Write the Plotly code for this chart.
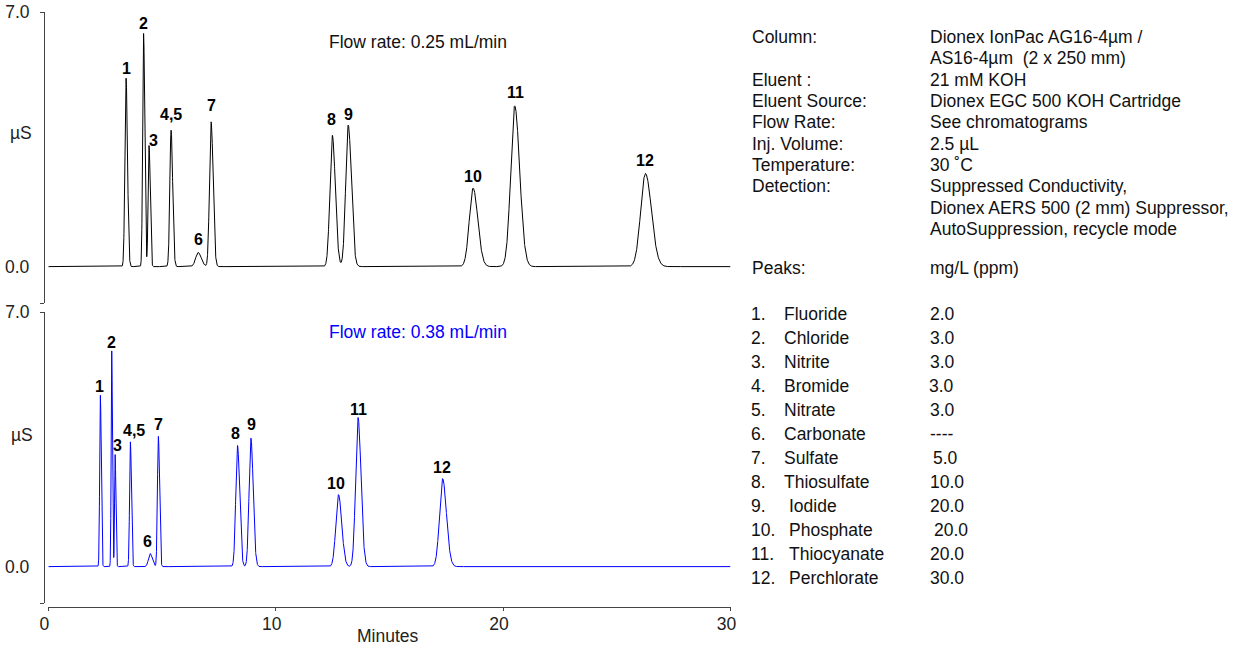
import numpy as np
import plotly.graph_objects as go

W, H = 1257, 651

# ---------------- data ----------------
peak_labels = ["1", "2", "3", "4,5", "6", "7", "8", "9", "10", "11", "12"]

# run at 0.25 mL/min (top)
rt_025 = [3.42, 4.19, 4.43, 5.40, 6.59, 7.16, 12.49, 13.19, 18.68, 20.51, 26.26]
ht_025 = [5.18, 6.41, 3.33, 3.75, 0.39, 3.98, 3.61, 3.89, 2.16, 4.42, 2.56]
sd_025 = [0.050, 0.040, 0.040, 0.055, 0.110, 0.070, 0.105, 0.110, 0.165, 0.175, 0.210]

# run at 0.38 mL/min (bottom)
rt_038 = [2.29, 2.79, 2.94, 3.61, 4.48, 4.84, 8.32, 8.91, 12.76, 13.62, 17.34]
ht_038 = [4.71, 5.93, 3.08, 3.43, 0.36, 3.58, 3.33, 3.53, 1.98, 4.10, 2.42]
sd_038 = [0.030, 0.025, 0.025, 0.035, 0.075, 0.040, 0.075, 0.080, 0.115, 0.105, 0.135]

x_ticks = [0, 10, 20, 30]
y_ticks = [-1.0, 7.0]

cond_names = ["Column:", "", "Eluent :", "Eluent Source:", "Flow Rate:", "Inj. Volume:",
              "Temperature:", "Detection:", "", ""]
cond_values = ["Dionex IonPac AG16-4µm /", "AS16-4µm\u00a0\u00a0(2 x 250 mm)", "21 mM KOH",
               "Dionex EGC 500 KOH Cartridge", "See chromatograms", "2.5 µL", "30 ˚C",
               "Suppressed Conductivity,", "Dionex AERS 500 (2 mm) Suppressor,",
               "AutoSuppression, recycle mode"]

analyte_no = ["1.", "2.", "3.", "4.", "5.", "6.", "7.", "8.", "9.", "10.", "11.", "12."]
analytes = ["Fluoride", "Chloride", "Nitrite", "Bromide", "Nitrate", "Carbonate", "Sulfate",
            "Thiosulfate", "Iodide", "Phosphate", "Thiocyanate", "Perchlorate"]
conc = ["2.0", "3.0", "3.0", "3.0", "3.0", "----", "5.0", "10.0", "20.0", "20.0", "20.0", "30.0"]

# ---------------- styling ----------------
FONT = "Liberation Sans, Arial, sans-serif"
FS = 17.5
AXC = "#444444"
TAIL = 1.25
top_gap = [3, 3, -1, 9, 6, 10, 9, 4, 5, 7, 7]
top_dx = [0, 0, 4, 0, 0, 0, -1, 0, 0, 1, 0]
bot_gap = [2, 2, 3, 5, 6, 5, 6, 7, 5, 1, 5]
bot_dx = [-1, 0, 2, 4, -3, 0, -2, 1, -2, 0, -1]


def chromatogram(t, rts, hts, sds):
    y = np.zeros_like(t)
    for r, h, s in zip(rts, hts, sds):
        sig = np.where(t < r, s, s * TAIL)
        y += h * np.exp(-0.5 * ((t - r) / sig) ** 2)
    return y


t = np.linspace(0, 30, 9001)
y_top = chromatogram(t, rt_025, ht_025, sd_025)
y_bot = chromatogram(t, rt_038, ht_038, sd_038)

fig = go.Figure()
fig.add_trace(go.Scatter(x=t, y=y_top, mode="lines", line=dict(color="black", width=1),
                         xaxis="x", yaxis="y", hoverinfo="skip", showlegend=False))
fig.add_trace(go.Scatter(x=t, y=y_bot, mode="lines", line=dict(color="#0000FF", width=1),
                         xaxis="x2", yaxis="y2", hoverinfo="skip", showlegend=False))

xdom = [48.3 / W, 730.5 / W]
ypos = 44 / W
top_dom = [(H - 303) / H, (H - 12) / H]
bot_dom = [(H - 603) / H, (H - 312) / H]

yax = dict(range=[-1, 7], anchor="free", position=ypos, showline=True, linecolor=AXC,
           linewidth=1, tickmode="array", tickvals=y_ticks, ticktext=["", "7.0"],
           ticks="outside", ticklen=4, tickcolor=AXC, showgrid=False, zeroline=False,
           tickfont=dict(family=FONT, size=FS, color="#222"), ticklabelstandoff=7,
           automargin=False, fixedrange=True)

fig.update_layout(
    width=W, height=H, margin=dict(l=0, r=0, t=0, b=0),
    paper_bgcolor="white", plot_bgcolor="white",
    font=dict(family=FONT, size=FS, color="#222"),
    xaxis=dict(domain=xdom, range=[0, 30], visible=False, anchor="y"),
    yaxis=dict(domain=top_dom, **yax),
    xaxis2=dict(domain=xdom, range=[0, 30], anchor="free", position=(H - 607) / H,
                showline=True, linecolor=AXC, linewidth=1, tickmode="array",
                tickvals=x_ticks, ticks="outside", ticklen=3, tickcolor=AXC,
                showgrid=False, zeroline=False, ticklabelstandoff=-2, ticklabelshift=-4,
                tickfont=dict(family=FONT, size=FS, color="#222"), automargin=False),
    yaxis2=dict(domain=bot_dom, **yax),
)

ann = []
# 0.0 labels and µS titles
for yr in ["y", "y2"]:
    ann.append(dict(text="0.0", x=32 / W, xref="paper", y=0, yref=yr, xanchor="right",
                    yanchor="middle", showarrow=False, font=dict(size=FS, color="#222")))
ann.append(dict(text="µS", x=21 / W, xref="paper", y=(H - 133) / H, yref="paper",
                showarrow=False, xanchor="center", yanchor="middle", font=dict(size=FS, color="#222")))
ann.append(dict(text="µS", x=22 / W, xref="paper", y=(H - 435) / H, yref="paper",
                showarrow=False, xanchor="center", yanchor="middle", font=dict(size=FS, color="#222")))
ann.append(dict(text="Minutes", x=388 / W, xref="paper", y=(H - 636) / H, yref="paper",
                showarrow=False, xanchor="center", yanchor="middle", font=dict(size=FS, color="#222")))
ann.append(dict(text="Flow rate: 0.25 mL/min", x=327 / W, xref="paper", y=(H - 42) / H,
                yref="paper", showarrow=False, xanchor="left", yanchor="middle",
                font=dict(size=FS, color="#111")))
ann.append(dict(text="Flow rate: 0.38 mL/min", x=327 / W, xref="paper", y=(H - 332) / H,
                yref="paper", showarrow=False, xanchor="left", yanchor="middle",
                font=dict(size=FS, color="#0000FF")))

# peak labels
for xr, yr, rts, hts, gaps, dxs in [("x", "y", rt_025, ht_025, top_gap, top_dx),
                                     ("x2", "y2", rt_038, ht_038, bot_gap, bot_dx)]:
    for lab, r, h, g, d in zip(peak_labels, rts, hts, gaps, dxs):
        ann.append(dict(text="<b>%s</b>" % lab, x=r, y=h, xref=xr, yref=yr, showarrow=False,
                        xanchor="center", yanchor="bottom", yshift=g - 4, xshift=d,
                        font=dict(size=16, color="black")))

# conditions block
c1x, c2x = 750 / W, 928 / W
for i, (a, b) in enumerate(zip(cond_names, cond_values)):
    yy = (H - (37 + 21.33 * i)) / H
    if a:
        ann.append(dict(text=a, x=c1x, y=yy, xref="paper", yref="paper", showarrow=False,
                        xanchor="left", yanchor="middle", font=dict(size=FS, color="#111")))
    ann.append(dict(text=b, x=c2x, y=yy, xref="paper", yref="paper", showarrow=False,
                    xanchor="left", yanchor="middle", font=dict(size=FS, color="#111")))

yy = (H - 268) / H
ann.append(dict(text="Peaks:", x=c1x, y=yy, xref="paper", yref="paper", showarrow=False,
                xanchor="left", yanchor="middle", font=dict(size=FS, color="#111")))
ann.append(dict(text="mg/L (ppm)", x=c2x, y=yy, xref="paper", yref="paper", showarrow=False,
                xanchor="left", yanchor="middle", font=dict(size=FS, color="#111")))

name_x = [782, 782, 782, 782, 782, 782, 782, 782, 787, 787, 787, 787]
val_x = [928, 928, 928, 927, 928, 928, 931, 928, 928, 932, 928, 928]
for i, (n, a, c) in enumerate(zip(analyte_no, analytes, conc)):
    yy = (H - (314 + 24.0 * i)) / H
    for txt, px in [(n, 749), (a, name_x[i]), (c, val_x[i])]:
        ann.append(dict(text=txt, x=px / W, y=yy, xref="paper", yref="paper", showarrow=False,
                        xanchor="left", yanchor="middle", font=dict(size=FS, color="#111")))

fig.update_layout(annotations=ann)
fig.write_html("out.html", config={"displayModeBar": False},
               post_script="document.body.style.margin='0px';"
                           "document.body.style.overflow='hidden';")
